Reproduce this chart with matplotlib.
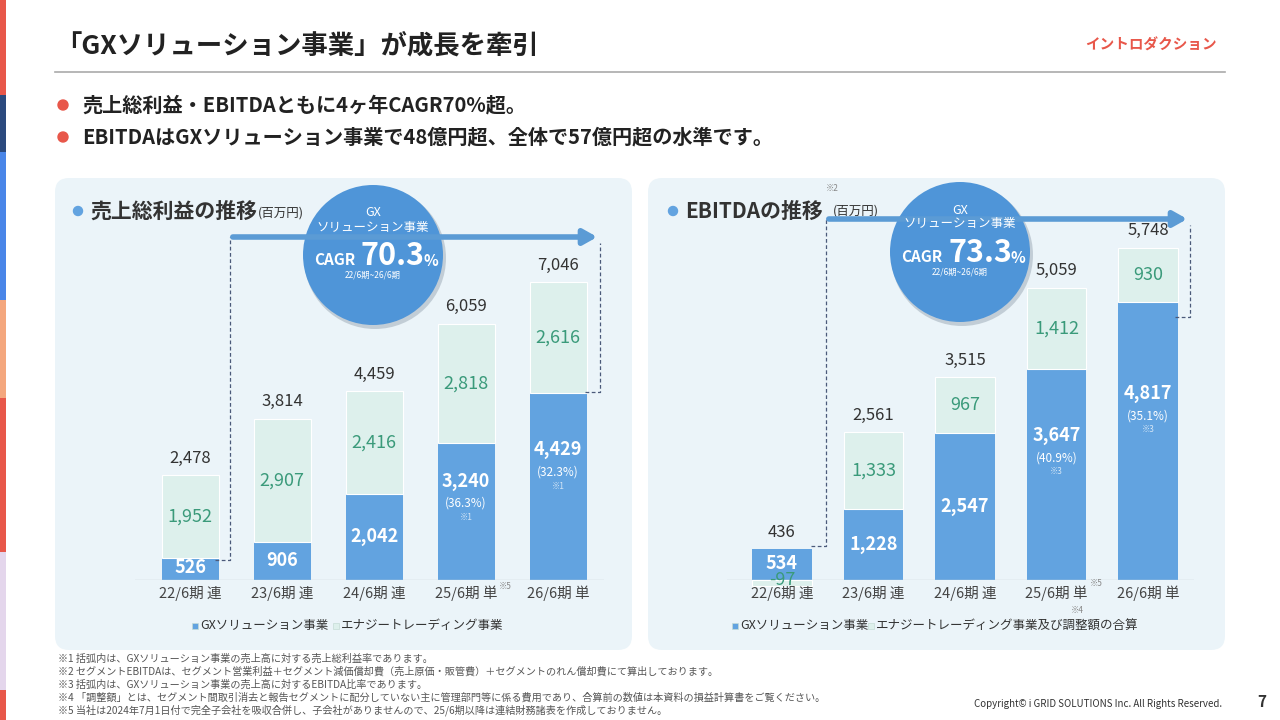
import matplotlib
matplotlib.use("Agg")
import matplotlib.pyplot as plt
from matplotlib.patches import FancyBboxPatch, Circle, Rectangle

plt.rcParams["font.family"] = ["Noto Sans CJK JP", "DejaVu Sans"]

# ── data ──────────────────────────────────────────────────────────────
periods = ["22/6期 連", "23/6期 連", "24/6期 連", "25/6期 単", "26/6期 単"]
gross_gx = [526, 906, 2042, 3240, 4429]
gross_energy = [1952, 2907, 2416, 2818, 2616]
gross_total = [2478, 3814, 4459, 6059, 7046]
gross_pct = [None, None, None, "(36.3%)", "(32.3%)"]
ebitda_gx = [534, 1228, 2547, 3647, 4817]
ebitda_other = [-97, 1333, 967, 1412, 930]
ebitda_total = [436, 2561, 3515, 5059, 5748]
ebitda_pct = [None, None, None, "(40.9%)", "(35.1%)"]

BLUE = "#62A3E0"
MINT = "#DDF0EC"
GREEN = "#3A9A7A"
DARK = "#333333"
PANEL = "#EBF4F9"
CIRCLE = "#4F95D8"
RED = "#E8574A"

W, H = 1280, 720
fig = plt.figure(figsize=(12.8, 7.2), dpi=100)
fig.patch.set_facecolor("white")


def px_axes(x0, y0, x1, y1, z):
    return fig.add_axes([x0 / W, 1 - y1 / H, (x1 - x0) / W, (y1 - y0) / H], zorder=z)


bg = px_axes(0, 0, W, H, 0)
bg.set_xlim(0, W); bg.set_ylim(H, 0); bg.axis("off")
fg = px_axes(0, 0, W, H, 5)
fg.set_xlim(0, W); fg.set_ylim(H, 0); fg.axis("off")
fg.patch.set_alpha(0)

# side strips
strips = [(0, 95, "#E8574A"), (95, 152, "#2B4A7E"), (152, 300, "#4A86E8"),
          (300, 398, "#F4A77E"), (398, 552, "#E8574A"), (552, 690, "#E4D6EC"), (690, 720, "#E8574A")]
for y0, y1, c in strips:
    bg.add_patch(Rectangle((0, y0), 6, y1 - y0, color=c, lw=0))

# header
bg.text(55, 46, "「GXソリューション事業」が成長を牽引", fontsize=19, fontweight="bold", color="#222222", va="center")
bg.text(1217, 45, "イントロダクション", fontsize=10.5, fontweight="bold", color=RED, va="center", ha="right")
bg.plot([55, 1225], [72, 72], color="#AAAAAA", lw=1.2)
for y, t in [(105, "売上総利益・EBITDAともに4ヶ年CAGR70%超。"),
             (137, "EBITDAはGXソリューション事業で48億円超、全体で57億円超の水準です。")]:
    bg.add_patch(Circle((63, y), 5, color=RED))
    bg.text(82, y, t, fontsize=14.5, fontweight="bold", color="#222222", va="center")

# panels
for x0, x1 in [(55, 632), (648, 1225)]:
    bg.add_patch(FancyBboxPatch((x0, 178), x1 - x0, 472, boxstyle="round,pad=0,rounding_size=14",
                                fc=PANEL, ec="none"))


def chart(x0, x1, top, bottom, ymax, gx, other, total, pct, width, note):
    ax = px_axes(x0, top, x1, bottom, 2)
    ax.patch.set_alpha(0)
    xs = range(len(periods))
    ax.bar(xs, gx, width, color=BLUE, lw=0)
    bottoms = [g if o >= 0 else 0 for g, o in zip(gx, other)]
    ax.bar(xs, other, width, bottom=bottoms, color=MINT, ec="white", lw=0.8, clip_on=False)
    ax.set_xlim(-0.6, 4.5)
    ax.set_ylim(0, ymax)
    ax.axhline(0, color="#C8D3DA", lw=1)
    for s in ax.spines.values():
        s.set_visible(False)
    ax.set_yticks([])
    ax.set_xticks(list(xs))
    ax.set_xticklabels(periods, fontsize=10.5, color="#444444")
    ax.tick_params(length=0, pad=4)
    for i in xs:
        ax.annotate(f"{total[i]:,}", (i, max(total[i], gx[i])), xytext=(0, 6), textcoords="offset points",
                    ha="center", va="bottom", fontsize=12, color=DARK)
        if other[i] >= 0:
            ax.text(i, gx[i] + other[i] / 2, f"{other[i]:,}", ha="center", va="center", fontsize=13, color=GREEN)
        else:
            ax.text(i, 0, f"{other[i]:,}", ha="center", va="center", fontsize=13, color=GREEN)
        if pct[i]:
            yc = gx[i] * 0.62
            ax.annotate(f"{gx[i]:,}", (i, yc), xytext=(0, 10), textcoords="offset points",
                        ha="center", va="center", fontsize=13, fontweight="bold", color="white")
            ax.annotate(pct[i], (i, yc), xytext=(0, -6), textcoords="offset points",
                        ha="center", va="center", fontsize=8.5, color="white")
            ax.annotate(note, (i, yc), xytext=(0, -16), textcoords="offset points",
                        ha="center", va="center", fontsize=6, color="#D5E6F6")
        else:
            yc = gx[i] / 2 if gx[i] > 700 else gx[i] * 0.55
            ax.text(i, yc, f"{gx[i]:,}", ha="center", va="center", fontsize=13, fontweight="bold", color="white")
    return ax


chart(135, 604, 200, 580, 380 / 0.0423, gross_gx, gross_energy, gross_total, gross_pct, 0.62, "※1")
chart(727, 1194, 200, 580, 380 / 0.0578, ebitda_gx, ebitda_other, ebitda_total, ebitda_pct, 0.65, "※3")

# chart titles
for x, t in [(78, "売上総利益の推移"), (673, "EBITDAの推移")]:
    bg.add_patch(Circle((x, 211), 4.5, color=BLUE))
    bg.text(x + 12, 211, t, fontsize=15, fontweight="bold", color="#333333", va="center")
fg.text(258, 213, "(百万円)", fontsize=9, color="#333333", va="center")
fg.text(833, 211, "(百万円)", fontsize=9, color="#333333", va="center")
fg.text(832, 191, "※2", fontsize=6, color="#888888", ha="center")

# arrows + dashed guides
for xa, xb, yl, ybar, xr, ytop in [(230, 600, 237, 560, 600, 392), (826, 1190, 219, 546, 1190, 317)]:
    fg.annotate("", xy=(xb, yl), xytext=(xa, yl),
                arrowprops=dict(arrowstyle="-|>,head_length=0.8,head_width=0.45", color="#5B9BD5", lw=4))
    fg.plot([xa - 15, xa, xa], [ybar, ybar, yl], ls=(0, (3, 2)), color="#4B5A7A", lw=0.9)
    fg.plot([xr - 15, xr, xr], [ytop, ytop, yl + 6], ls=(0, (3, 2)), color="#4B5A7A", lw=0.9)

# CAGR circles
for cx, cy, val in [(373, 255, "70.3"), (960, 252, "73.3")]:
    fg.add_patch(Circle((cx + 2, cy + 3), 71, color="#9AA8B5", alpha=0.5, lw=0))
    fg.add_patch(Circle((cx, cy), 70, color=CIRCLE, lw=0))
    fg.text(cx, cy - 42, "GX", fontsize=9, color="white", ha="center", va="center")
    fg.text(cx, cy - 28, "ソリューション事業", fontsize=9, color="white", ha="center", va="center")
    fg.text(cx - 38, cy + 5, "CAGR", fontsize=11, fontweight="bold", color="white", ha="center", va="center")
    fg.text(cx + 20, cy + 1, val, fontsize=22, fontweight="bold", color="white", ha="center", va="center")
    fg.text(cx + 58, cy + 6, "%", fontsize=11, fontweight="bold", color="white", ha="center", va="center")
    fg.text(cx, cy + 20, "22/6期~26/6期", fontsize=6, color="white", ha="center", va="center")

fg.text(505, 589, "※5", fontsize=6, color="#888888", ha="center")
fg.text(1096, 586, "※5", fontsize=6, color="#888888", ha="center")
fg.text(1077, 613, "※4", fontsize=6, color="#888888", ha="center")

# legends
for xs_, label, c in [(192, "GXソリューション事業", BLUE), (333, "エナジートレーディング事業", MINT),
                      (732, "GXソリューション事業", BLUE), (868, "エナジートレーディング事業及び調整額の合算", MINT)]:
    fg.add_patch(Rectangle((xs_, 623), 6, 6, fc=c, ec="#C5DCD6", lw=0.5))
    fg.text(xs_ + 8, 626, label, fontsize=9, color="#333333", va="center")

notes = [
    "※1 括弧内は、GXソリューション事業の売上高に対する売上総利益率であります。",
    "※2 セグメントEBITDAは、セグメント営業利益＋セグメント減価償却費（売上原価・販管費）＋セグメントのれん償却費にて算出しております。",
    "※3 括弧内は、GXソリューション事業の売上高に対するEBITDA比率であります。",
    "※4 「調整額」とは、セグメント間取引消去と報告セグメントに配分していない主に管理部門等に係る費用であり、合算前の数値は本資料の損益計算書をご覧ください。",
    "※5 当社は2024年7月1日付で完全子会社を吸収合併し、子会社がありませんので、25/6期以降は連結財務諸表を作成しておりません。",
]
for k, t in enumerate(notes):
    fg.text(58, 659 + k * 12.7, t, fontsize=7.3, color="#555555", va="center")
fg.text(1222, 704, "Copyright© i GRID SOLUTIONS Inc. All Rights Reserved.", fontsize=7, color="#333333",
        ha="right", va="center")
fg.text(1262, 702, "7", fontsize=11, fontweight="bold", color="#333333", ha="center", va="center")

fig.savefig("out.png", dpi=100, facecolor="white")
